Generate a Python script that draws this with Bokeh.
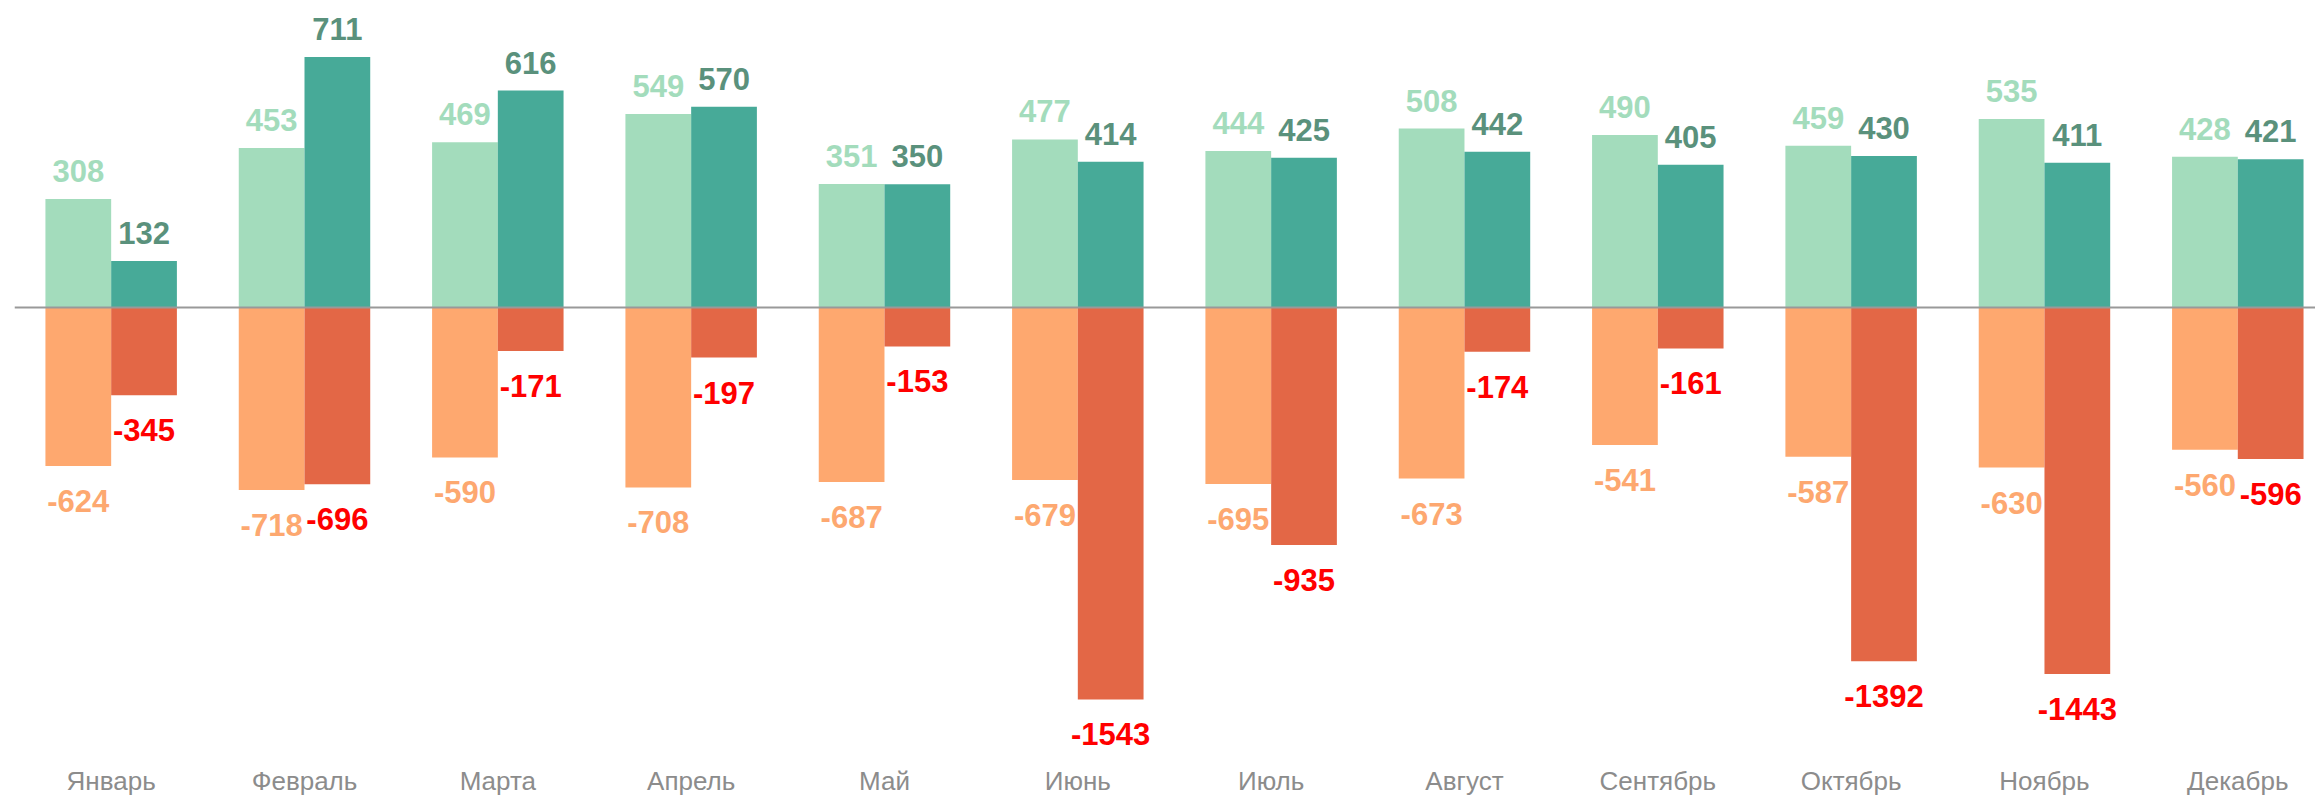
from bokeh.plotting import figure
from bokeh.models import ColumnDataSource, Range1d, Span, FixedTicker
from bokeh.transform import dodge
from bokeh.core.properties import value
from bokeh.embed import file_html
from bokeh.resources import INLINE

months = ["Январь", "Февраль", "Марта", "Апрель", "Май", "Июнь",
          "Июль", "Август", "Сентябрь", "Октябрь", "Ноябрь", "Декабрь"]
pos_light = [308, 453, 469, 549, 351, 477, 444, 508, 490, 459, 535, 428]
pos_dark = [132, 711, 616, 570, 350, 414, 425, 442, 405, 430, 411, 421]
neg_light = [-624, -718, -590, -708, -687, -679, -695, -673, -541, -587, -630, -560]
neg_dark = [-345, -696, -171, -197, -153, -1543, -935, -174, -161, -1392, -1443, -596]

idx = list(range(len(months)))
src = ColumnDataSource(dict(
    x=idx,
    pl=pos_light, pd=pos_dark, nl=neg_light, nd=neg_dark,
    pl_t=[str(v) for v in pos_light], pd_t=[str(v) for v in pos_dark],
    nl_t=[str(v) for v in neg_light], nd_t=[str(v) for v in neg_dark],
))

W, H = 2315, 798
frame_h = 758.0          # expected plot frame height (figure minus x axis)
zero_px = 308.3          # zero line distance from frame top
pos_scale = 0.3538       # px per unit, positive part
neg_scale = 0.2550       # px per unit, negative part

p = figure(width=W, height=H, output_backend="svg", toolbar_location=None,
           x_range=Range1d(-0.5, -0.5 + 2301 / 193.33),
           y_range=Range1d(-(frame_h - zero_px) / pos_scale, zero_px / pos_scale),
           y_axis_location=None, min_border_left=14, min_border_right=0,
           min_border_top=0, min_border_bottom=0)
p.extra_y_ranges = {"neg": Range1d(-(frame_h - zero_px) / neg_scale, zero_px / neg_scale)}
p.outline_line_color = None
p.grid.visible = False
p.background_fill_color = "white"
p.border_fill_color = "white"

c_pl, c_pd, c_nl, c_nd = "#a3dcbc", "#47aa98", "#fea86f", "#e36746"
t_pl, t_pd, t_nl, t_nd = "#a3dcbc", "#5a917c", "#fda870", "#ff0000"
bw = 0.34
off = 0.17

p.vbar(x=dodge("x", -off), top="pl", bottom=0, width=bw, source=src,
       fill_color=c_pl, line_color=None)
p.vbar(x=dodge("x", off), top="pd", bottom=0, width=bw, source=src,
       fill_color=c_pd, line_color=None)
p.vbar(x=dodge("x", -off), top=0, bottom="nl", width=bw, source=src,
       fill_color=c_nl, line_color=None, y_range_name="neg")
p.vbar(x=dodge("x", off), top=0, bottom="nd", width=bw, source=src,
       fill_color=c_nd, line_color=None, y_range_name="neg")

p.add_layout(Span(location=0, dimension="width", line_color="#999999", line_width=2))

font = value("Liberation Sans")
common = dict(source=src, text_font=font, text_font_size="31px",
              text_font_style="bold", text_align="center", text_baseline="alphabetic")
p.text(x=dodge("x", -off), y="pl", text="pl_t", text_color=t_pl, y_offset=-28, **common)
p.text(x=dodge("x", off), y="pd", text="pd_t", text_color=t_pd, y_offset=-28, **common)
p.text(x=dodge("x", -off), y="nl", text="nl_t", text_color=t_nl, y_offset=35,
       y_range_name="neg", **common)
p.text(x=dodge("x", off), y="nd", text="nd_t", text_color=t_nd, y_offset=35,
       y_range_name="neg", **common)

ax = p.xaxis[0]
ax.ticker = FixedTicker(ticks=idx)
ax.major_label_overrides = {i: m for i, m in enumerate(months)}
ax.axis_line_color = None
ax.major_tick_line_color = None
ax.minor_tick_line_color = None
ax.major_tick_out = 0
ax.major_tick_in = 0
ax.major_label_standoff = 10
ax.major_label_text_font = "Liberation Sans"
ax.major_label_text_font_size = "26px"
ax.major_label_text_color = "#8c8c8c"

open("out.html", "w").write(file_html(p, INLINE))
